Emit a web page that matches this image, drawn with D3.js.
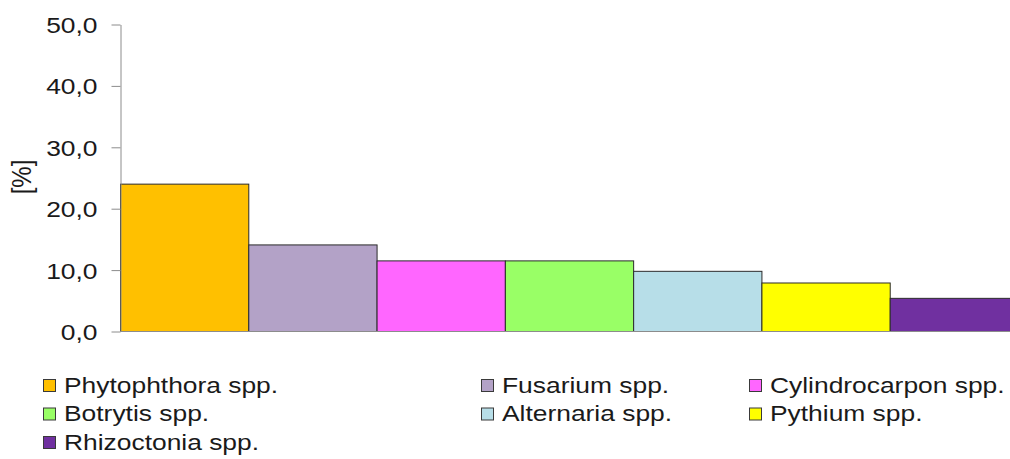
<!DOCTYPE html>
<html lang="en">
<head>
<meta charset="utf-8">
<title>Pathogens</title>
<script src="https://cdn.jsdelivr.net/npm/d3@7"></script>
<style>
  body { margin: 0; background: #fff; }
  svg { display: block; font-family: "Liberation Sans", Arial, sans-serif; }
  .bar { stroke: #2b2b2b; stroke-width: 1; }
  .tick text { font-size: 22px; fill: #1a1a1a; }
  .legend text { font-size: 22px; fill: #1a1a1a; }
</style>
</head>
<body>
<script>
// data
var categories = ["Phytophthora spp.", "Fusarium spp.", "Cylindrocarpon spp.", "Botrytis spp.",
                  "Alternaria spp.", "Pythium spp.", "Rhizoctonia spp."];
var values = [24.0, 14.1, 11.5, 11.5, 9.8, 7.9, 5.4];
var colors = ["#FFC000", "#B3A2C7", "#FF66FF", "#99FF66", "#B7DEE8", "#FFFF00", "#7030A0"];
var yTicks = [0, 10, 20, 30, 40, 50];

var W = 1010, H = 459;
var mLeft = 120, mRight = 1018, mTop = 24, mBottom = 331;
var stretch = 1.2; // text in the picture is a bit wider than plain Arial

var svg = d3.select("body").append("svg")
  .attr("width", W)
  .attr("height", H);

var x = d3.scaleBand()
  .domain(categories)
  .range([mLeft, mRight])
  .padding(0);

var y = d3.scaleLinear()
  .domain([0, 50])
  .range([mBottom, mTop]);

// bars
svg.selectAll("rect.bar")
  .data(categories)
  .enter()
  .append("rect")
  .attr("class", "bar")
  .attr("x", function(d) { return x(d) + 0.5; })
  .attr("y", function(d, i) { return y(values[i]) + 0.5; })
  .attr("width", x.bandwidth())
  .attr("height", function(d, i) { return mBottom - y(values[i]); })
  .attr("fill", function(d, i) { return colors[i]; });

// y axis
var yAxis = d3.axisLeft(y)
  .tickValues(yTicks)
  .tickSize(9)
  .tickSizeOuter(0)
  .tickFormat(function(d) { return d3.format(".1f")(d).replace(".", ","); });

var gy = svg.append("g")
  .attr("transform", "translate(" + (mLeft + 0.5) + ",0.5)")
  .call(yAxis);
gy.select(".domain").attr("stroke", "#8c8c8c");
gy.selectAll(".tick line").attr("stroke", "#8c8c8c");
gy.selectAll(".tick text")
  .attr("x", 0)
  .attr("dy", "0.36em")
  .attr("transform", "translate(-23,0) scale(" + stretch + ",1)");

// x baseline
svg.append("line")
  .attr("x1", mLeft).attr("x2", W)
  .attr("y1", mBottom + 0.5).attr("y2", mBottom + 0.5)
  .attr("stroke", "#8c8c8c");

// y label
svg.append("text")
  .attr("transform", "translate(31,177) rotate(-90) scale(1,1.15)")
  .attr("text-anchor", "middle")
  .style("font-size", "24px")
  .attr("fill", "#1a1a1a")
  .text("[%]");

// legend
var colX = [43, 481, 749];
var rowY = [385, 413.5, 442];
var legend = svg.append("g").attr("class", "legend");
var item = legend.selectAll("g")
  .data(categories)
  .enter()
  .append("g")
  .attr("transform", function(d, i) {
    return "translate(" + colX[i % 3] + "," + rowY[Math.floor(i / 3)] + ")";
  });
item.append("rect")
  .attr("x", 0.5).attr("y", -5.5)
  .attr("width", 12).attr("height", 12)
  .attr("fill", function(d, i) { return colors[i]; })
  .attr("stroke", "#3a3a3a");
item.append("text")
  .attr("transform", "translate(21,0) scale(" + stretch + ",1)")
  .attr("dy", "0.36em")
  .text(function(d) { return d; });
</script>
</body>
</html>
